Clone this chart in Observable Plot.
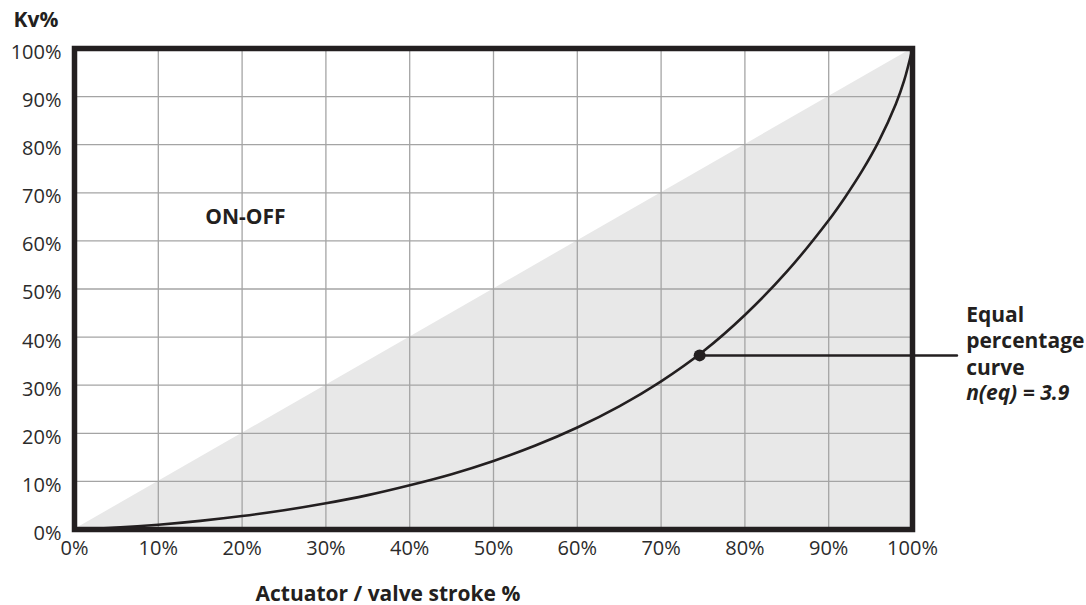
<!DOCTYPE html>
<html>
<head>
<meta charset="utf-8">
<script src="https://cdn.jsdelivr.net/npm/d3@7"></script>
<script src="https://cdn.jsdelivr.net/npm/@observablehq/plot@0.6"></script>
<style>
  html, body { margin: 0; padding: 0; background: #fff; }
  #chart svg { display: block; }
</style>
</head>
<body>
<div id="chart"></div>
<script>
// ---- data ----
const stroke = [0, 5, 10, 15, 20, 25, 30, 35, 40, 45, 50, 55, 60, 65, 70, 75, 80, 85, 90, 92, 94, 96, 98, 99, 100];
const kv     = [0, 0.4, 1.0, 1.8, 2.8, 4.0, 5.45, 7.15, 9.2, 11.5, 14.25, 17.45, 21.2, 25.6, 30.8, 37.0, 44.6, 53.6, 64.3, 69.2, 74.6, 80.8, 88.4, 93.3, 100];
const onOffStroke = [0, 100];
const onOffKv     = [0, 100];
const xTicks = [0, 10, 20, 30, 40, 50, 60, 70, 80, 90, 100];
const yTicks = [0, 10, 20, 30, 40, 50, 60, 70, 80, 90, 100];
const markerPoint = {x: 74.6, y: 36.2};
const leaderEndX = 105.3;
const labelX = 106.4;
const onOffLabel = {x: 20.4, y: 63.5, text: "ON-OFF"};
const curveLabel = "Equal\npercentage\ncurve";
const curveParam = "n(eq) = 3.9";
const yTitle = "Kv%";
const xTitle = "Actuator / valve stroke %";

const curveData = stroke.map((s, i) => ({x: s, y: kv[i]}));
const onOffData = onOffStroke.map((s, i) => ({x: s, y: onOffKv[i]}));
const leader = [{x: markerPoint.x, y: markerPoint.y}, {x: leaderEndX, y: markerPoint.y}];

const ink = "#231f20";
const font = "'Open Sans', 'DejaVu Sans', sans-serif";

const chart = Plot.plot({
  width: 1086,
  height: 605,
  marginLeft: 74,
  marginRight: 174,
  marginTop: 48,
  marginBottom: 76,
  style: {fontFamily: font, fontSize: "20px", color: "#2b2b2b", background: "#fff"},
  x: {domain: [0, 100], label: null},
  y: {domain: [0, 100], label: null},
  marks: [
    Plot.areaY(onOffData, {x: "x", y: "y", fill: "#e8e8e8"}),
    Plot.gridX({ticks: xTicks, stroke: "#a4a4a4", strokeOpacity: 1, strokeWidth: 1.3}),
    Plot.gridY({ticks: yTicks, stroke: "#a4a4a4", strokeOpacity: 1, strokeWidth: 1.3}),
    Plot.line(curveData, {x: "x", y: "y", stroke: ink, strokeWidth: 2.6, curve: "catmull-rom"}),
    Plot.line(leader, {x: "x", y: "y", stroke: ink, strokeWidth: 2.5}),
    Plot.dot([markerPoint], {x: "x", y: "y", r: 6, fill: ink}),
    Plot.frame({stroke: ink, strokeWidth: 5.5}),
    Plot.axisY({ticks: yTicks, tickFormat: d => `${d}%`, tickSize: 0, tickPadding: 13, fontSize: 20, dy: 4, label: null, fill: "#2b2b2b"}),
    Plot.axisX({ticks: xTicks, tickFormat: d => `${d}%`, tickSize: 0, tickPadding: 11, fontSize: 20, label: null, fill: "#2b2b2b"}),
    Plot.text([onOffLabel], {x: "x", y: "y", text: "text", fontSize: 21, fontWeight: "bold", fill: ink, textAnchor: "middle", lineAnchor: "bottom"}),
    Plot.text([curveLabel], {x: () => labelX, y: () => markerPoint.y, text: d => d, fontSize: 21, fontWeight: "bold", fill: ink, textAnchor: "start", lineAnchor: "bottom", lineHeight: 1.27, dy: 19.5}),
    Plot.text([curveParam], {x: () => labelX, y: () => markerPoint.y, text: d => d, fontSize: 21, fontWeight: "bold", fontStyle: "italic", fill: ink, textAnchor: "start", lineAnchor: "bottom", dy: 45}),
    Plot.text([yTitle], {frameAnchor: "top-left", text: d => d, fontSize: 21, fontWeight: "bold", fill: ink, textAnchor: "start", lineAnchor: "bottom", dx: -61, dy: -22}),
    Plot.text([xTitle], {frameAnchor: "bottom-left", text: d => d, fontSize: 21, fontWeight: "bold", fill: ink, textAnchor: "start", lineAnchor: "bottom", dx: 181, dy: 71})
  ]
});
document.getElementById("chart").appendChild(chart);
</script>
</body>
</html>
